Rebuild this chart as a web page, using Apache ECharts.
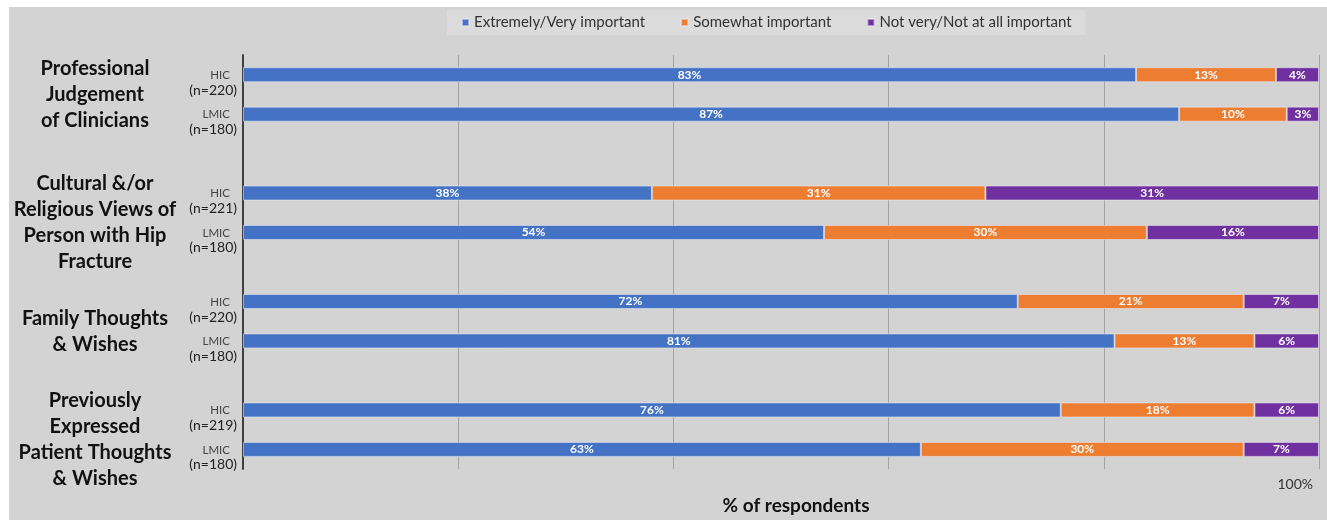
<!DOCTYPE html>
<html><head><meta charset="utf-8">
<script src="https://cdn.jsdelivr.net/npm/echarts@6/dist/echarts.min.js"></script>
<style>
html,body{margin:0;padding:0;background:#d3d3d3;width:100%;height:100%;overflow:hidden;}
#c{position:absolute;left:9px;top:7px;right:0;bottom:0;}
.w{position:absolute;background:#fff;z-index:5;}
</style>
</head><body>
<div class="w" style="left:0;top:0;right:0;height:7px"></div>
<div class="w" style="left:0;top:0;bottom:0;width:9px"></div>
<div id="c"></div>
<script>
// ---- data ----
const groupLabels = [
  'Professional\nJudgement\nof Clinicians',
  'Cultural &/or\nReligious Views of\nPerson with Hip\nFracture',
  'Family Thoughts\n& Wishes',
  'Previously\nExpressed\nPatient Thoughts\n& Wishes'
];
const rowCohorts = ['HIC','LMIC','HIC','LMIC','HIC','LMIC','HIC','LMIC'];
const rowSampleSizes = [220,180,221,180,220,180,219,180];
const seriesNames = ['Extremely/Very important','Somewhat important','Not very/Not at all important'];
const extremelyVery = [83,87,38,54,72,81,76,63];
const somewhat      = [13,10,31,30,21,13,18,30];
const notVery       = [4,3,31,16,7,6,6,7];
const xTickLabels = {100:'100%'};
const xAxisTitle = '% of respondents';

// ---- layout (slot grid along the category axis) ----
const SLOT_COUNT = 43;
const rowSlots = [2,6,14,18,25,29,36,40];
const groupSlots = [4,17,28,39];

// ---- build ----
const FONT = 'Lato, "Open Sans", sans-serif';
const cats = [], rowAt = {}, groupAt = {};
for (let k=0;k<SLOT_COUNT;k++) cats.push('s'+k);
rowSlots.forEach((s,i)=>{ rowAt[s]=i; });
groupSlots.forEach((s,g)=>{ groupAt[s]=g; });
const col = arr => cats.map((_,k)=> rowAt[k]!==undefined ? arr[rowAt[k]] : '-');

const colors = ['#4472C4','#ED7D31','#7030A0'];
const chart = echarts.init(document.getElementById('c'));
const mk = (name,data,i)=>({
  name, type:'bar', stack:'t', data:col(data), barWidth:15,
  itemStyle:{color:colors[i], borderColor:'rgba(235,235,245,0.55)', borderWidth:1},
  label:{show:true, position:'inside', formatter:p=>p.value+'%', color:'#fff', fontWeight:'bold', fontSize:12, fontFamily:FONT}
});
chart.setOption({
  animation:false,
  backgroundColor:'#d3d3d3',
  color:colors,
  legend:{
    left:438, top:3, backgroundColor:'#dbdbdb', padding:[5,14,5,14],
    icon:'rect', itemWidth:7, itemHeight:7, itemGap:35,
    textStyle:{fontFamily:FONT, fontSize:15, color:'#333'},
    data:seriesNames
  },
  grid:{left:234, right:8, top:48, bottom:36},
  xAxis:{
    type:'value', min:0, max:100, interval:20,
    axisLine:{show:false}, axisTick:{show:false},
    splitLine:{show:true, lineStyle:{color:'#a3a3a3', width:1}},
    axisLabel:{formatter:v=>xTickLabels[v]||'', align:'right', margin:8, padding:[0,6,0,0], fontSize:14, color:'#333', fontFamily:FONT},
    name:xAxisTitle, nameLocation:'middle', nameGap:16,
    nameTextStyle:{fontSize:19, fontWeight:'bold', color:'#111', fontFamily:FONT, padding:[0,0,0,30]}
  },
  yAxis:[{
    type:'category', data:cats, inverse:true, boundaryGap:false,
    axisLine:{show:true, lineStyle:{color:'#404040', width:2}}, axisTick:{show:false},
    splitLine:{show:false},
    axisLabel:{
      interval:0, margin:6, align:'right', padding:[16,0,0,0],
      formatter:(v,k)=>{ const i=rowAt[k]; if(i===undefined) return ''; return '{a|'+rowCohorts[i]+'}\n{b|(n='+rowSampleSizes[i]+')}'; },
      rich:{
        a:{fontSize:11.5, color:'#444', fontFamily:FONT, lineHeight:15, align:'right', padding:[0,7,0,0]},
        b:{fontSize:14, color:'#222', fontFamily:FONT, lineHeight:15, align:'right'}
      }
    }
  },{
    type:'category', data:cats, inverse:true, boundaryGap:false, position:'left',
    axisLine:{show:false}, axisTick:{show:false}, splitLine:{show:false},
    axisLabel:{
      interval:0, margin:148, align:'center',
      formatter:(v,k)=> groupAt[k]!==undefined ? groupLabels[groupAt[k]] : '',
      fontSize:20, fontWeight:'bold', color:'#111', lineHeight:26, fontFamily:FONT
    }
  }],
  series:[mk(seriesNames[0],extremelyVery,0), mk(seriesNames[1],somewhat,1), mk(seriesNames[2],notVery,2)]
});
</script></body></html>
